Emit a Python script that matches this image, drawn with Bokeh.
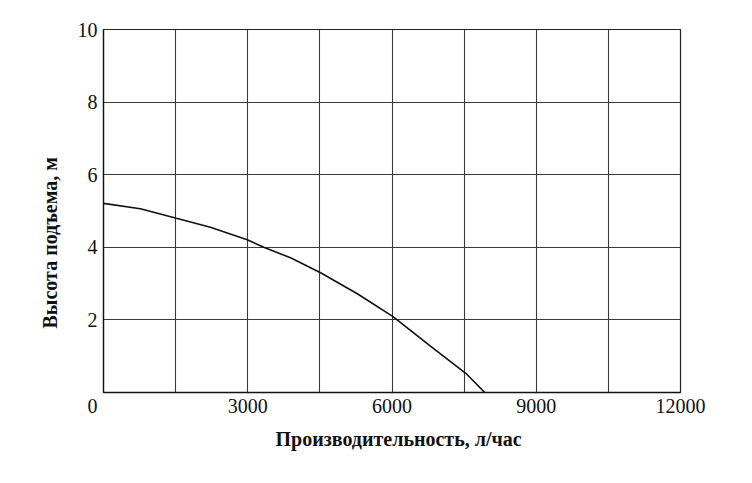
from bokeh.plotting import figure
from bokeh.models import FixedTicker, Range1d, Title
from bokeh.embed import file_html
from bokeh.resources import INLINE

flow = [0, 765, 1181, 1515, 2223, 2988, 3333, 3890, 4515, 5279, 6021, 6806, 7535, 7930]
head = [5.21, 5.06, 4.92, 4.80, 4.55, 4.21, 4.00, 3.71, 3.30, 2.72, 2.09, 1.27, 0.53, 0.0]
x_ticks = [3000, 6000, 9000, 12000]
y_ticks = [0, 2, 4, 6, 8, 10]
x_grid = [1500, 3000, 4500, 6000, 7500, 9000, 10500, 12000]
y_grid = [2, 4, 6, 8, 10]
x_title = "Производительность, л/час"
y_title = "Высота подъема, м"
origin_label = "0"

FONT = "Liberation Serif"

p = figure(width=744, height=475, output_backend="svg", toolbar_location=None,
           x_range=Range1d(0, 12000), y_range=Range1d(0, 10),
           min_border_left=103, min_border_right=64, min_border_top=29, min_border_bottom=83)
p.background_fill_color = "white"
p.border_fill_color = "white"
p.outline_line_color = "#222222"
p.outline_line_width = 1.2

for ax in (p.xaxis[0], p.yaxis[0]):
    ax.major_tick_in = 0
    ax.major_tick_out = 0
    ax.minor_tick_in = 0
    ax.minor_tick_out = 0
    ax.axis_line_color = "#111111"
    ax.axis_line_width = 1.3
    ax.major_label_text_font = FONT
    ax.major_label_text_font_size = "20px"
    ax.major_label_text_color = "#111111"
    ax.major_label_standoff = 6

p.xaxis[0].ticker = FixedTicker(ticks=x_ticks)
p.yaxis[0].ticker = FixedTicker(ticks=y_ticks)
p.yaxis[0].major_label_overrides = {0: "\n" + origin_label}

p.add_layout(Title(text=y_title, align="left", offset=64, standoff=28,
                   text_font=FONT, text_font_style="bold", text_font_size="20px",
                   text_color="#111111"), "left")
p.add_layout(Title(text=x_title, align="left", offset=172, standoff=20,
                   text_font=FONT, text_font_style="bold", text_font_size="20px",
                   text_color="#111111"), "below")

p.xgrid[0].ticker = FixedTicker(ticks=x_grid)
p.ygrid[0].ticker = FixedTicker(ticks=y_grid)
for g in (p.xgrid[0], p.ygrid[0]):
    g.grid_line_color = "#3a3a3a"
    g.grid_line_width = 1.1

p.line(flow, head, line_color="#111111", line_width=1.6)

open("out.html", "w").write(file_html(p, INLINE))
